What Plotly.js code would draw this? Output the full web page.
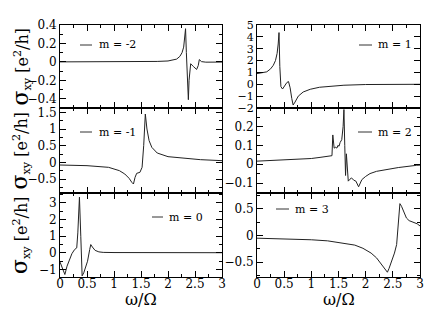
<!DOCTYPE html>
<html><head><meta charset="utf-8">
<script src="https://cdn.plot.ly/plotly-3.0.1.min.js"></script>
<style>html,body{margin:0;padding:0;background:#fff}</style>
</head><body><div id="chart" style="width:436px;height:309px"></div>
<script>
// ---- data ----
const omega_mneg2 = [0, 0.5, 1, 1.5, 1.8, 2.0, 2.1, 2.16, 2.22, 2.26, 2.29, 2.31, 2.325, 2.34, 2.36, 2.377, 2.39, 2.42, 2.47, 2.53, 2.56, 2.58, 2.62, 2.7, 3.0];
const sigma_mneg2 = [0, 0, 0, 0.002, 0.005, 0.01, 0.02, 0.03, 0.06, 0.1, 0.16, 0.25, 0.36, 0.1, -0.25, -0.41, -0.2, -0.02, -0.05, -0.082, -0.04, 0.025, 0.003, -0.003, -0.002];

const omega_m1 = [0, 0.1, 0.18, 0.25, 0.3, 0.34, 0.37, 0.39, 0.405, 0.42, 0.44, 0.47, 0.51, 0.55, 0.58, 0.61, 0.64, 0.665, 0.7, 0.76, 0.85, 0.98, 1.15, 1.3, 1.6, 2.0, 2.5, 3.0];
const sigma_m1 = [0.9, 0.95, 1.05, 1.3, 1.6, 2.0, 2.6, 3.4, 4.36, 1.5, -0.2, -0.4, -0.1, 0.15, 0.23, -0.3, -1.2, -1.75, -1.5, -1.0, -0.65, -0.42, -0.25, -0.18, -0.08, -0.02, 0.0, 0.0];

const omega_mneg1 = [0, 0.5, 0.9, 1.1, 1.2, 1.28, 1.33, 1.36, 1.39, 1.42, 1.48, 1.52, 1.55, 1.58, 1.61, 1.65, 1.7, 1.8, 2.0, 2.3, 2.6, 3.0];
const sigma_mneg1 = [-0.08, -0.1, -0.15, -0.25, -0.35, -0.48, -0.6, -0.65, -0.45, -0.33, -0.3, -0.15, 0.5, 1.45, 1.0, 0.65, 0.45, 0.28, 0.17, 0.12, 0.08, 0.05];

const omega_m2 = [0, 0.3, 0.67, 1.0, 1.16, 1.3, 1.38, 1.395, 1.405, 1.42, 1.45, 1.47, 1.49, 1.51, 1.53, 1.56, 1.585, 1.6, 1.615, 1.63, 1.645, 1.665, 1.68, 1.71, 1.74, 1.78, 1.82, 1.87, 1.93, 2.0, 2.08, 2.2, 2.39, 2.6, 2.94, 3.0];
const sigma_m2 = [0.016, 0.019, 0.024, 0.03, 0.036, 0.042, 0.045, 0.155, 0.1, 0.085, 0.09, 0.085, 0.1, 0.095, 0.115, 0.13, 0.2, 0.29, 0.1, -0.06, 0.055, -0.04, -0.09, -0.08, -0.073, -0.085, -0.09, -0.12, -0.082, -0.065, -0.05, -0.038, -0.027, -0.018, -0.006, -0.005];

const omega_m0 = [0, 0.04, 0.09, 0.13, 0.17, 0.22, 0.27, 0.31, 0.33, 0.36, 0.385, 0.41, 0.44, 0.47, 0.51, 0.55, 0.57, 0.6, 0.65, 0.72, 0.8, 1.0, 1.5, 2.0, 2.5, 3.0];
const sigma_m0 = [-0.55, -0.9, -1.3, -0.8, -0.45, -0.05, 0.2, 0.3, 1.2, 3.35, 1.0, -1.38, -1.2, -0.9, -0.5, 0.2, 0.5, 0.35, 0.15, 0.06, 0.03, 0.02, 0.01, 0.01, 0.01, 0.01];

const omega_m3 = [0, 0.5, 1.0, 1.3, 1.6, 1.8, 1.95, 2.1, 2.2, 2.3, 2.36, 2.4, 2.43, 2.48, 2.53, 2.57, 2.6, 2.63, 2.66, 2.7, 2.75, 2.8, 2.85, 2.9, 2.95, 3.0];
const sigma_m3 = [-0.05, -0.06, -0.08, -0.1, -0.14, -0.18, -0.24, -0.33, -0.42, -0.55, -0.63, -0.69, -0.62, -0.49, -0.33, -0.17, 0.23, 0.6, 0.55, 0.45, 0.33, 0.28, 0.26, 0.25, 0.22, 0.18];

const legendLabels = ['m = -2', 'm = 1', 'm = -1', 'm = 2', 'm = 0', 'm = 3'];
const yTitleText = 'σ<sub>xy</sub> [e<sup>2</sup>/h]';
const xTitleText = 'ω/Ω';

// ---- layout config ----
const W = 436, H = 309;
const FONT = 'DejaVu Serif';
const seriesX = [omega_mneg2, omega_m1, omega_mneg1, omega_m2, omega_m0, omega_m3];
const seriesY = [sigma_mneg2, sigma_m1, sigma_mneg1, sigma_m2, sigma_m0, sigma_m3];
const cols = [[60, 222], [257, 420]];
const rows = [[25, 108], [108, 193], [193, 277]];
const yRanges = [[-0.5, 0.4], [-2, 5], [-0.92, 1.63], [-0.153, 0.298], [-1.45, 3.6], [-0.78, 0.8]];
const yDticks = [0.2, 1, 0.5, 0.1, 1, 0.5];
const yMinor = [0.1, null, 0.25, 0.05, 0.5, 0.25];
const yTickSize = [12, 11, 12, 12, 12, 12];
const legPos = [[80, 92, 97, 45], [359, 372, 376, 45], [80, 92, 97, 132], [358, 372, 376, 132], [152, 163, 167, 217], [276, 289, 293, 209]];

const px = v => v / W, py = v => 1 - v / H;
const traces = [], layout = {
  width: W, height: H, margin: {l: 0, r: 0, t: 0, b: 0},
  paper_bgcolor: '#fff', plot_bgcolor: '#fff', showlegend: false,
  font: {family: FONT, color: '#000'}, shapes: [], annotations: []
};
for (let i = 0; i < 6; i++) {
  const c = i % 2, r = Math.floor(i / 2), k = i === 0 ? '' : String(i + 1);
  traces.push({x: seriesX[i], y: seriesY[i], xaxis: 'x' + k, yaxis: 'y' + k, mode: 'lines',
    line: {color: '#222', width: 1}, hoverinfo: 'skip'});
  const common = {showline: true, linecolor: '#000', linewidth: 1, mirror: 'ticks', ticks: 'inside',
    ticklen: 6, tickcolor: '#000', tickwidth: 1, showgrid: false, zeroline: false, fixedrange: true};
  layout['xaxis' + k] = Object.assign({}, common, {
    domain: [px(cols[c][0]), px(cols[c][1])], range: [0, 3], anchor: 'y' + k,
    tick0: 0, dtick: 0.5, showticklabels: r === 2, ticklabelstandoff: -4,
    tickfont: {family: FONT, size: 12, color: '#000'},
    minor: {dtick: 0.25, ticks: 'inside', ticklen: 3, tickcolor: '#000'}});
  const ya = Object.assign({}, common, {
    domain: [py(rows[r][1]), py(rows[r][0])], range: yRanges[i], anchor: 'x' + k,
    tick0: 0, dtick: yDticks[i], tickfont: {family: FONT, size: yTickSize[i], color: '#000'}});
  if (yMinor[i]) ya.minor = {dtick: yMinor[i], ticks: 'inside', ticklen: 3, tickcolor: '#000'};
  layout['yaxis' + k] = ya;
  const L = legPos[i];
  layout.shapes.push({type: 'line', xref: 'paper', yref: 'paper', x0: px(L[0]), x1: px(L[1]),
    y0: py(L[3]), y1: py(L[3]), line: {color: '#333', width: 1}});
  layout.annotations.push({xref: 'paper', yref: 'paper', x: px(L[2]), y: py(L[3]), xanchor: 'left',
    yanchor: 'middle', text: legendLabels[i], showarrow: false, font: {family: FONT, size: 11, color: '#000'}});
  if (c === 0) {
    layout.annotations.push({xref: 'paper', yref: 'paper', x: px(20), y: py((rows[r][0] + rows[r][1]) / 2),
      xanchor: 'center', yanchor: 'middle', textangle: -90, showarrow: false,
      text: yTitleText.replace('σ', '<span style="font-size:22px">σ</span>'),
      font: {family: FONT, size: 16, color: '#000'}});
  }
  if (r === 2) {
    layout.annotations.push({xref: 'paper', yref: 'paper', x: px((cols[c][0] + cols[c][1]) / 2), y: py(299),
      xanchor: 'center', yanchor: 'middle', text: xTitleText, showarrow: false,
      font: {family: FONT, size: 16, color: '#000'}});
  }
}
Plotly.newPlot('chart', traces, layout, {displayModeBar: false, staticPlot: true});
</script></body></html>
